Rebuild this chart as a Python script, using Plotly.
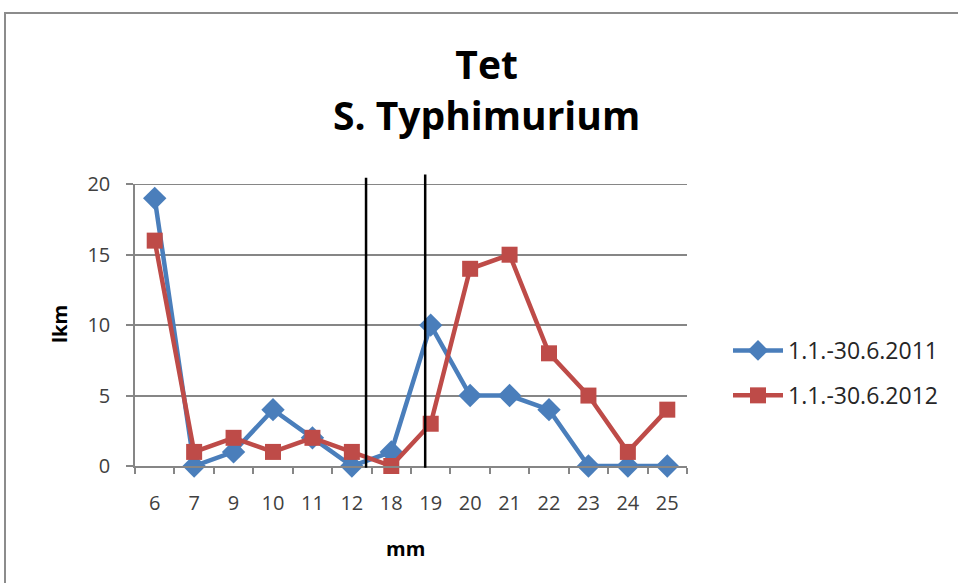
import plotly.graph_objects as go

categories = ["6", "7", "9", "10", "11", "12", "18", "19", "20", "21", "22", "23", "24", "25"]
series_2011 = [19, 0, 1, 4, 2, 0, 1, 10, 5, 5, 4, 0, 0, 0]
series_2012 = [16, 1, 2, 1, 2, 1, 0, 3, 14, 15, 8, 5, 1, 4]
name_2011 = "1.1.-30.6.2011"
name_2012 = "1.1.-30.6.2012"
breakpoints = [5.36, 6.86]   # category-index positions of the two vertical lines
y_ticks = [0, 5, 10, 15, 20]

FONT = "Open Sans, Liberation Sans, Arial, sans-serif"
BLUE = "#4A7EBB"
RED = "#BE4B48"
GRID = "#868686"
W, H = 958, 583
L, R, T, B = 135, 271, 184, 117

fig = go.Figure()
fig.add_trace(go.Scatter(
    x=categories, y=series_2011, name=name_2011, mode="lines+markers",
    line=dict(color=BLUE, width=4.5),
    marker=dict(symbol="diamond", size=18, color=BLUE),
    cliponaxis=False, legendgroup="a"))
fig.add_trace(go.Scatter(
    x=categories, y=series_2012, name=name_2012, mode="lines+markers",
    line=dict(color=RED, width=4.5),
    marker=dict(symbol="square", size=16, color=RED),
    cliponaxis=False, legendgroup="b"))

# top gridline (plotly omits the gridline at the plot edge)
fig.add_shape(type="line", xref="paper", yref="y", x0=0, x1=1, y0=y_ticks[-1], y1=y_ticks[-1],
              line=dict(color=GRID, width=1.5), layer="below")

for bp, top in zip(breakpoints, [1.022, 1.034]):
    fig.add_shape(type="line", xref="x", yref="paper", x0=bp, x1=bp, y0=-0.006, y1=top,
                  line=dict(color="black", width=2.5), layer="above")

pw = W - L - R
ph = H - T - B

# outer chart frame
fig.add_shape(type="rect", xref="paper", yref="paper",
              x0=(5 - L) / pw, x1=(1000 - L) / pw,
              y0=-(700 - (H - B)) / ph, y1=((H - B) - 13) / ph,
              line=dict(color="#8C8C8C", width=2), fillcolor="rgba(0,0,0,0)", layer="below")

fig.add_annotation(text="Tet<br>S. Typhimurium", xref="paper", yref="paper",
                   x=(487 - L) / pw, y=((H - B) - 89) / ph, showarrow=False,
                   xanchor="center", yanchor="middle",
                   font=dict(family=FONT, size=39, color="black", weight="bold"))
fig.add_annotation(text="lkm", xref="paper", yref="paper",
                   x=(59 - L) / pw, y=((H - B) - 324) / ph, showarrow=False, textangle=-90,
                   xanchor="center", yanchor="middle",
                   font=dict(family=FONT, size=20, color="black", weight="bold"))
fig.add_annotation(text="mm", xref="paper", yref="paper",
                   x=(405 - L) / pw, y=((H - B) - 548) / ph, showarrow=False,
                   xanchor="center", yanchor="middle",
                   font=dict(family=FONT, size=20, color="black", weight="bold"))

fig.update_layout(
    width=W, height=H,
    margin=dict(l=L, r=R, t=T, b=B, autoexpand=False),
    paper_bgcolor="white", plot_bgcolor="white",
    font=dict(family=FONT, size=20, color="#404040"),
    showlegend=True,
    legend=dict(x=(728 - L) / pw, y=((H - B) - 373) / ph, xanchor="left", yanchor="middle",
                font=dict(family=FONT, size=23, color="#262626"),
                tracegroupgap=12, itemwidth=50, bgcolor="rgba(0,0,0,0)"),
    xaxis=dict(type="category", categoryorder="array", categoryarray=categories,
               showgrid=False, showline=True, linecolor=GRID, linewidth=1.5,
               ticks="outside", tickson="boundaries", ticklen=6, tickcolor=GRID,
               tickwidth=1.5, ticklabelstandoff=18,
               tickfont=dict(family=FONT, size=20, color="#404040"),
               range=[-0.5, len(categories) - 0.5]),
    yaxis=dict(range=[0, 20.02], tickvals=y_ticks, showgrid=True, gridcolor=GRID,
               gridwidth=1.5, showline=True, linecolor=GRID, linewidth=1.5,
               ticks="outside", ticklen=7, tickcolor=GRID, tickwidth=1.5,
               ticklabelstandoff=12, zeroline=False,
               tickfont=dict(family=FONT, size=20, color="#404040")),
)

fig.write_html("out.html")
